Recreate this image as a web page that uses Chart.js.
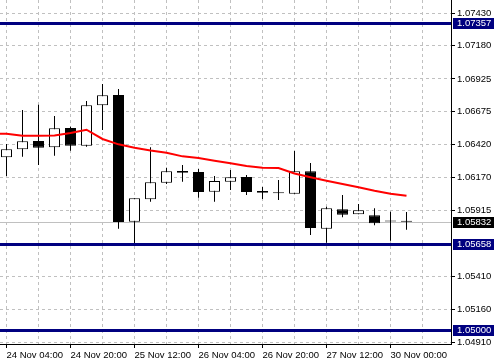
<!DOCTYPE html>
<html><head><meta charset="utf-8">
<script src="https://cdn.jsdelivr.net/npm/chart.js@4/dist/chart.umd.min.js"></script>
<style>html,body{margin:0;padding:0;background:#fff;overflow:hidden}canvas{display:block}</style>
</head><body>
<canvas id="c" width="494" height="362"></canvas>
<script>
const times = ['24 Nov 04:00','24 Nov 08:00','24 Nov 12:00','24 Nov 16:00','24 Nov 20:00','25 Nov 00:00','25 Nov 04:00','25 Nov 08:00','25 Nov 12:00','25 Nov 16:00','25 Nov 20:00','26 Nov 00:00','26 Nov 04:00','26 Nov 08:00','26 Nov 12:00','26 Nov 16:00','26 Nov 20:00','27 Nov 00:00','27 Nov 04:00','27 Nov 08:00','27 Nov 12:00','27 Nov 16:00','27 Nov 20:00','29 Nov 20:00','30 Nov 00:00','30 Nov 04:00'];
const open  = [1.06325,1.06386,1.06450,1.06401,1.06549,1.06414,1.06723,1.06802,1.05831,1.06003,1.06130,1.06220,1.06212,1.06061,1.06138,1.06174,1.06067,1.06051,1.06046,1.06217,1.05778,1.05926,1.05888,1.05880,1.05834,1.05832];
const high  = [1.06427,1.06687,1.06728,1.06641,1.06559,1.06756,1.06886,1.06848,1.06011,1.06401,1.06245,1.06266,1.06235,1.06181,1.06227,1.06189,1.06097,1.06151,1.06373,1.06281,1.05946,1.06036,1.05967,1.05934,1.05908,1.05906];
const low   = [1.06181,1.06329,1.06266,1.06337,1.06375,1.06406,1.06534,1.05778,1.05658,1.05985,1.06120,1.06138,1.06015,1.05985,1.06074,1.06036,1.06005,1.05998,1.06046,1.05730,1.05671,1.05865,1.05888,1.05804,1.05686,1.05770];
const close = [1.06386,1.06447,1.06398,1.06547,1.06414,1.06723,1.06800,1.05829,1.06011,1.06133,1.06217,1.06207,1.06059,1.06143,1.06172,1.06059,1.06054,1.06050,1.06217,1.05783,1.05934,1.05885,1.05919,1.05819,1.05833,1.05832];
const maPrev = 1.06505;
const ma    = [1.06505,1.06490,1.06490,1.06492,1.06511,1.06536,1.06465,1.06424,1.06398,1.06377,1.06360,1.06332,1.06319,1.06299,1.06279,1.06258,1.06245,1.06243,1.06201,1.06172,1.06145,1.06120,1.06095,1.06069,1.06046,1.06030];
const yTicks = [1.07430,1.07180,1.06925,1.06675,1.06420,1.06170,1.05915,1.05410,1.05160,1.04910];
const levels = [1.07357,1.05658,1.05000];
const bid = 1.05832;
const labelEvery = 4;
const gridEvery = 2;

const Y_MIN = 1.048947, Y_MAX = 1.075296;
const X_MIN = -0.40625, X_MAX = 27.78125;
const FONT = {family: 'Liberation Sans', size: 9.5};

const maData = [{x: -1, y: maPrev}].concat(ma.slice(0, times.length).map((v, i) => ({x: i, y: v})));

const levelsPlugin = {
  id: 'levels',
  beforeDatasetsDraw(chart) {
    const {ctx, chartArea: a, scales: {y}} = chart;
    const py = Math.round(y.getPixelForValue(bid)) + 0.5;
    ctx.save();
    ctx.strokeStyle = '#c0c0c0'; ctx.lineWidth = 1;
    ctx.beginPath(); ctx.moveTo(a.left, py); ctx.lineTo(a.right, py); ctx.stroke();
    ctx.restore();
  },
  afterDatasetsDraw(chart) {
    const {ctx, chartArea: a, scales: {y}} = chart;
    ctx.save();
    ctx.strokeStyle = '#000080'; ctx.lineWidth = 3;
    levels.forEach(v => {
      const py = Math.round(y.getPixelForValue(v)) + 0.5;
      ctx.beginPath(); ctx.moveTo(a.left, py); ctx.lineTo(a.right, py); ctx.stroke();
    });
    ctx.restore();
  },
  afterDraw(chart) {
    const {ctx, chartArea: a, scales: {y}} = chart;
    ctx.save();
    ctx.font = FONT.size + 'px "' + FONT.family + '"';
    ctx.textBaseline = 'middle'; ctx.textAlign = 'left';
    const tag = (v, bg) => {
      const py = Math.round(y.getPixelForValue(v));
      ctx.fillStyle = bg;
      ctx.fillRect(a.right + 2, py - 5, chart.width - a.right - 2, 11);
      ctx.fillStyle = '#ffffff';
      ctx.fillText(v.toFixed(5), a.right + 6, py + 0.5);
    };
    tag(bid, '#000000');
    levels.forEach(v => tag(v, '#000080'));
    ctx.restore();
  }
};

new Chart(document.getElementById('c'), {
  type: 'bar',
  data: {
    datasets: [
      {
        type: 'line', label: 'MA', data: maData, borderColor: '#ff0000', borderWidth: 2,
        pointRadius: 0, tension: 0, order: 0
      },
      {
        label: 'body', data: times.map((t, i) => ({x: i, y: [open[i], close[i]]})),
        backgroundColor: times.map((t, i) => close[i] > open[i] ? '#ffffff' : '#000000'),
        borderColor: '#000000', borderWidth: 1, borderSkipped: false, minBarLength: 1,
        grouped: false, maxBarThickness: 11, inflateAmount: 0, order: 1
      },
      {
        label: 'wick', data: times.map((t, i) => ({x: i, y: [low[i], high[i]]})),
        backgroundColor: '#000000', borderWidth: 0, grouped: false, maxBarThickness: 1,
        inflateAmount: 0, order: 2
      }
    ]
  },
  options: {
    responsive: false, animation: false, devicePixelRatio: 1,
    layout: {padding: 0},
    plugins: {legend: {display: false}, tooltip: {enabled: false}},
    font: FONT,
    scales: {
      x: {
        type: 'linear', min: X_MIN, max: X_MAX, offset: false,
        afterFit(s) { s.height = 18; s.paddingLeft = 0; s.paddingRight = 0; s.paddingTop = 0; s.paddingBottom = 0; },
        afterBuildTicks(s) {
          const t = [];
          for (let i = 0; i <= X_MAX; i += gridEvery) t.push({value: i});
          s.ticks = t;
        },
        grid: {
          offset: false, color: '#c0c0c0', lineWidth: 1, drawTicks: true, tickLength: 4,
          tickBorderDash: [],
          tickColor: (c) => (c.tick && c.tick.value % labelEvery === 0 && c.tick.value < times.length) ? '#000000' : 'rgba(0,0,0,0)'
        },
        border: {display: true, color: '#000000', width: 1, dash: [3, 3]},
        ticks: {
          autoSkip: false, maxRotation: 0, minRotation: 0, align: 'start', padding: 2,
          color: '#000000', font: FONT,
          callback: (v) => (v % labelEvery === 0 && times[v]) ? times[v] : ''
        }
      },
      y: {
        type: 'linear', position: 'right', min: Y_MIN, max: Y_MAX,
        afterFit(s) { s.width = 43; s.paddingTop = 0; s.paddingBottom = 0; s.paddingLeft = 0; s.paddingRight = 0; },
        afterBuildTicks(s) { s.ticks = yTicks.map(v => ({value: v})); },
        grid: {color: '#c0c0c0', lineWidth: 1, drawTicks: true, tickLength: 4, tickBorderDash: [], tickColor: '#000000'},
        border: {display: true, color: '#000000', width: 1, dash: [3, 3]},
        ticks: {padding: 2, color: '#000000', font: FONT, callback: (v) => v.toFixed(5)}
      }
    }
  },
  plugins: [levelsPlugin]
});
</script>
</body></html>
